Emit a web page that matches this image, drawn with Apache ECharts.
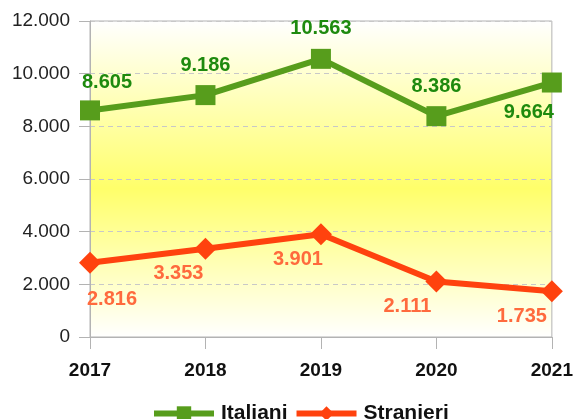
<!DOCTYPE html>
<html>
<head>
<meta charset="utf-8">
<script src="https://cdn.jsdelivr.net/npm/echarts@6/dist/echarts.min.js"></script>
<style>
html, body { margin: 0; padding: 0; background: #fff; }
#chart { width: 576px; height: 419px; }
</style>
</head>
<body>
<div id="chart"></div>
<script>
// dati
var anni = ['2017', '2018', '2019', '2020', '2021'];
var italiani = [8605, 9186, 10563, 8386, 9664];
var stranieri = [2816, 3353, 3901, 2111, 1735];
var yTicks = [0, 2000, 4000, 6000, 8000, 10000, 12000];

// spostamenti delle etichette (come nell'originale)
var offItaliani = [[17, 2], [0, 0], [0, 0], [0, 0], [-23, 0]];
var posItaliani = ['top', 'top', 'top', 'top', 'bottom'];
var offStranieri = [[22, 12], [-27, 0], [-23, 0], [-29, 0], [-30, 0]];

function fmt(v) {
    return String(v).replace(/\B(?=(\d{3})+(?!\d))/g, '.');
}

var datiItaliani = [];
for (var i = 0; i < italiani.length; i++) {
    datiItaliani.push({
        value: italiani[i],
        label: { position: posItaliani[i], offset: offItaliani[i] }
    });
}
var datiStranieri = [];
for (var j = 0; j < stranieri.length; j++) {
    datiStranieri.push({
        value: stranieri[j],
        label: { position: 'bottom', offset: offStranieri[j] }
    });
}

var myChart = echarts.init(document.getElementById('chart'));
var option = {
    animation: false,
    textStyle: { fontFamily: 'Liberation Sans' },
    grid: {
        left: 90, right: 24, top: 21, bottom: 82,
        show: true,
        borderColor: '#b3b3b3',
        borderWidth: 1,
        backgroundColor: new echarts.graphic.LinearGradient(0, 0, 0, 1, [
            { offset: 0, color: '#ffffff' },
            { offset: 0.53, color: '#ffff6a' },
            { offset: 1, color: '#ffffff' }
        ])
    },
    legend: {
        bottom: -10,
        left: 146,
        itemWidth: 60,
        itemHeight: 18,
        itemGap: 6,
        textStyle: { fontSize: 21, fontWeight: 'bold', color: '#111', padding: [0, 0, 0, 2] },
        data: [
            { name: 'Italiani', lineStyle: { width: 6 } },
            { name: 'Stranieri', lineStyle: { width: 6 } }
        ]
    },
    xAxis: {
        type: 'category',
        boundaryGap: false,
        data: anni,
        axisLine: { lineStyle: { color: '#b3b3b3' } },
        axisTick: { show: true, length: 12, lineStyle: { color: '#b3b3b3' } },
        axisLabel: { margin: 24, fontSize: 19, fontWeight: 'bold', color: '#111' },
        splitLine: { show: false }
    },
    yAxis: {
        type: 'value',
        min: yTicks[0],
        max: yTicks[yTicks.length - 1],
        interval: 2000,
        axisLine: { show: true, lineStyle: { color: '#b3b3b3' } },
        axisTick: { show: true, length: 11, lineStyle: { color: '#b3b3b3' } },
        axisLabel: { fontSize: 19, color: '#222', margin: 20, formatter: function (v) { return fmt(v); } },
        splitLine: { show: true, lineStyle: { color: '#c8c8c8', type: [5, 4] } }
    },
    series: [
        {
            name: 'Italiani',
            type: 'line',
            data: datiItaliani,
            symbol: 'rect',
            symbolSize: 20,
            lineStyle: { width: 6, color: '#579d1c' },
            itemStyle: { color: '#579d1c' },
            label: {
                show: true,
                distance: 10,
                fontSize: 20,
                fontWeight: 'bold',
                color: '#1e8a0e',
                formatter: function (p) { return fmt(p.value); }
            }
        },
        {
            name: 'Stranieri',
            type: 'line',
            data: datiStranieri,
            symbol: 'diamond',
            symbolSize: 22,
            lineStyle: { width: 6, color: '#ff420e' },
            itemStyle: { color: '#ff420e' },
            label: {
                show: true,
                distance: 4,
                fontSize: 20,
                fontWeight: 'bold',
                color: '#ff6a3d',
                formatter: function (p) { return fmt(p.value); }
            }
        }
    ]
};
myChart.setOption(option);
</script>
</body>
</html>
